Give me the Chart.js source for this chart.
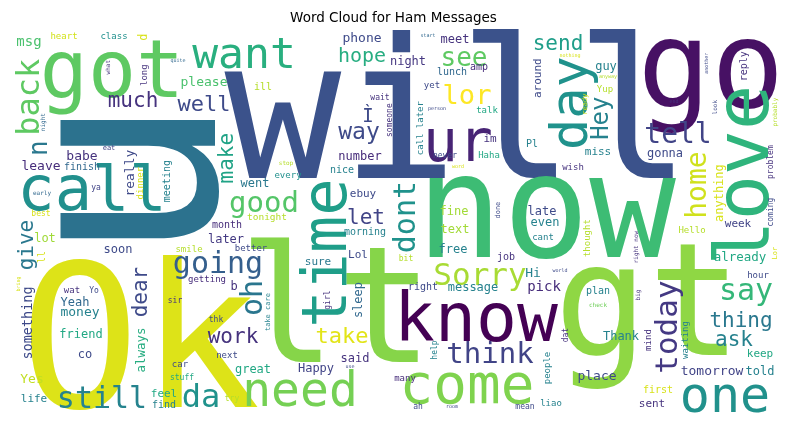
<!DOCTYPE html>
<html>
<head>
<meta charset="utf-8">
<title>Word Cloud for Ham Messages</title>
<script src="https://cdn.jsdelivr.net/npm/chart.js@4.4.1/dist/chart.umd.min.js"></script>
<style>
  html, body { margin: 0; padding: 0; background: #ffffff; }
  canvas { display: block; }
</style>
</head>
<body>
<canvas id="nube" width="790" height="425"></canvas>
<script>
// Palabras de la nube (mensajes "ham")
const words = [
  "will", "u", "Ok", "lt", "gt", "now", "go", "know", "come", "got",
  "call", "time", "love", "want", "need", "day", "ur", "one", "still", "da",
  "Sorry", "think", "going", "good", "oh", "lor", "see", "back", "dont", "home",
  "tell", "today", "say", "Hey", "Ì", "way", "make", "send", "much", "well",
  "hope", "give", "dear", "work", "take", "let", "thing", "ask", "n", "please",
  "msg", "heart", "class", "long", "babe", "leave", "finish", "really", "dinner", "meeting",
  "eat", "ya", "early", "best", "night", "quite", "what", "d", "every", "stop",
  "went", "tonight", "month", "later", "better", "soon", "smile", "lot", "ll", "getting",
  "b", "take care", "wat", "Yo", "Yeah", "money", "friend", "co", "something", "bring",
  "always", "Yes", "life", "feel", "find", "car", "stuff", "sir", "great", "next",
  "thk", "try", "Happy", "said", "use", "sleep", "girl", "sure", "Lol", "morning",
  "phone", "ill", "wait", "someone", "number", "nice", "ebuy", "start", "meet", "nothing",
  "night", "amp", "lunch", "yet", "around", "ready", "talk", "person", "Pl", "im",
  "call later", "never", "Haha", "wish", "word", "miss", "fine", "late", "done", "even",
  "cant", "text", "free", "job", "bit", "thought", "world", "Hi", "right", "message",
  "pick", "help", "many", "ah", "room", "mean", "liao", "people", "dat", "plan",
  "check", "big", "right now", "Hello", "anything", "gonna", "week", "coming", "problem", "probably",
  "already", "Lor", "hour", "Thank", "mind", "waiting", "keep", "tomorrow", "told", "place",
  "first", "sent", "guy", "anyway", "Yup", "end", "reply", "another", "look"
];

// Posición de cada palabra en la imagen (x, y de la línea base)
const posX = [
  458, 215, 140, 336, 648, 546, 711, 476, 467, 112,
  92, 346, 768, 244, 300, 587, 458, 725, 102, 201,
  480, 490, 218, 264, 262, 467, 464, 39, 415, 706,
  678, 677, 746, 608, 368, 359, 233, 558, 133, 204,
  362, 33, 147, 233, 342, 366, 741, 734, 47, 204,
  29, 64, 114, 147, 82, 41, 82, 134, 143, 170,
  109, 96, 42, 41, 45, 178, 110, 147, 288, 286,
  255, 267, 227, 226, 251, 118, 189, 45, 45, 207,
  234, 270, 72, 94, 75, 80, 81, 85, 32, 20,
  145, 32, 34, 164, 164, 180, 182, 175, 253, 227,
  216, 232, 316, 355, 350, 362, 330, 318, 358, 365,
  362, 263, 380, 392, 360, 342, 363, 428, 455, 570,
  408, 479, 452, 432, 541, 587, 487, 437, 532, 490,
  423, 445, 489, 573, 458, 598, 454, 542, 500, 545,
  543, 455, 453, 506, 406, 590, 560, 533, 423, 473,
  544, 437, 405, 418, 452, 525, 551, 550, 568, 598,
  598, 640, 638, 692, 723, 665, 738, 773, 773, 777,
  740, 777, 758, 621, 651, 688, 760, 712, 760, 597,
  658, 652, 606, 608, 605, 674, 747, 708, 717
];
const posY = [
  178, 180, 407, 362, 355, 257, 107, 341, 403, 97,
  210, 253, 175, 68, 406, 103, 161, 412, 408, 407,
  285, 363, 273, 212, 298, 104, 66, 97, 217, 185,
  143, 327, 300, 118, 122, 139, 158, 50, 107, 111,
  62, 245, 292, 343, 343, 224, 327, 346, 148, 86,
  46, 39, 39, 75, 160, 170, 170, 173, 183, 181,
  150, 190, 195, 216, 122, 62, 67, 37, 178, 165,
  187, 220, 228, 243, 251, 253, 252, 242, 257, 282,
  290, 312, 293, 293, 306, 316, 338, 358, 323, 284,
  350, 383, 402, 397, 408, 367, 380, 303, 373, 358,
  322, 401, 372, 362, 368, 300, 300, 265, 258, 235,
  42, 90, 100, 120, 160, 173, 197, 37, 43, 57,
  65, 70, 75, 88, 78, 104, 113, 110, 147, 142,
  128, 158, 158, 170, 168, 155, 215, 215, 210, 226,
  240, 233, 253, 260, 261, 238, 272, 277, 290, 291,
  291, 350, 381, 409, 408, 409, 406, 368, 335, 294,
  307, 295, 247, 233, 193, 157, 227, 212, 162, 112,
  261, 253, 278, 340, 340, 340, 357, 375, 375, 380,
  393, 407, 70, 78, 92, 103, 66, 63, 107
];

// Tamaño de letra (frecuencia relativa)
const sizes = [
  194, 283, 200, 162, 156, 144, 122, 68, 56, 80,
  62, 62, 75, 43, 48, 52, 58, 50, 30, 32,
  31, 29, 30, 29, 30, 27, 26, 32, 30, 28,
  28, 31, 30, 24, 19, 23, 21, 21, 21, 22,
  20, 21, 21, 21, 22, 21, 21, 21, 26, 13,
  14, 9, 9, 9, 13, 13, 10, 13, 9, 10,
  7, 8, 6, 8, 6, 5, 6, 12, 9, 6,
  12, 9.5, 10, 12, 9, 12, 9, 12, 10, 9,
  12, 7, 9, 8, 12, 13, 12, 12, 13.5, 5,
  12.5, 13, 11, 11, 10, 9, 8, 8, 12, 9,
  8, 8, 12, 12, 5, 12, 8, 11, 11, 10,
  13, 10, 8, 8, 12, 10, 11, 5, 12, 5,
  12, 10, 10, 9, 11, 7, 9, 5, 10, 11,
  9, 8, 9, 9, 5, 11, 12, 12, 7, 12,
  9, 12, 12, 10, 8, 9, 5, 13, 10, 12,
  14, 8, 9, 8, 5, 8, 9, 9, 8, 10,
  6, 6, 6, 9, 12, 12, 11, 8, 8, 6,
  12.5, 7, 9, 12, 9, 9, 11, 13, 12, 13,
  10, 11, 12, 5, 9, 5, 10, 5, 6
];

// 1 = palabra vertical (se lee de abajo hacia arriba)
const vertical = [
  0, 1, 0, 0, 0, 0, 0, 0, 0, 0,
  0, 1, 1, 0, 0, 1, 0, 0, 0, 0,
  0, 0, 0, 0, 1, 0, 0, 1, 1, 1,
  0, 1, 0, 1, 0, 0, 1, 0, 0, 0,
  0, 1, 1, 0, 0, 0, 0, 0, 1, 0,
  0, 0, 0, 1, 0, 0, 0, 1, 1, 1,
  0, 0, 0, 0, 1, 0, 1, 1, 0, 0,
  0, 0, 0, 0, 0, 0, 0, 0, 1, 0,
  0, 1, 0, 0, 0, 0, 0, 0, 1, 1,
  1, 0, 0, 0, 0, 0, 0, 0, 0, 0,
  0, 0, 0, 0, 0, 1, 1, 0, 0, 0,
  0, 0, 0, 1, 0, 0, 0, 0, 0, 0,
  0, 0, 0, 0, 1, 1, 0, 0, 0, 0,
  1, 0, 0, 0, 0, 0, 0, 0, 1, 0,
  0, 0, 0, 0, 0, 1, 0, 0, 0, 0,
  0, 1, 0, 0, 0, 0, 0, 1, 1, 0,
  0, 1, 1, 0, 1, 0, 0, 1, 1, 1,
  0, 1, 0, 0, 1, 1, 0, 0, 0, 0,
  0, 0, 0, 0, 0, 0, 1, 1, 1
];

// Colores (paleta viridis)
const colores = [
  "#3b528b", "#2c728e", "#dde318", "#86d549", "#8fd744", "#3dbc74", "#471164", "#440154", "#7fd34e", "#5ec962",
  "#21908d", "#1f9e89", "#2fb47c", "#29af7f", "#75d054", "#20928c", "#482475", "#21918c", "#25838e", "#20928c",
  "#a8db34", "#414487", "#355f8d", "#54c568", "#2a768e", "#fde725", "#5ec962", "#5ec962", "#20928c", "#d0e11c",
  "#414487", "#443983", "#35b779", "#26828e", "#3e4a89", "#3e4a89", "#20a386", "#1f9e89", "#46337e", "#3e4a89",
  "#27ad81", "#2a788e", "#3e4a89", "#46337e", "#e2e418", "#414487", "#2a788e", "#26828e", "#2a788e", "#4ac16d",
  "#4ac16d", "#d2e21b", "#21908d", "#46337e", "#46337e", "#472d7b", "#31688e", "#3e4989", "#d8e219", "#26828e",
  "#414487", "#414487", "#31688e", "#d8e219", "#31688e", "#31688e", "#46337e", "#d8e219", "#21908d", "#b5de2b",
  "#2a788e", "#b5de2b", "#472d7b", "#443a83", "#3e4a89", "#3e4a89", "#b5de2b", "#a0da39", "#d8e219", "#472d7b",
  "#46337e", "#26828e", "#46337e", "#3e4a89", "#31688e", "#26828e", "#22a884", "#3e4a89", "#3e4a89", "#d8e219",
  "#27ad81", "#c2df23", "#26828e", "#22a884", "#26828e", "#3e4a89", "#22a884", "#46337e", "#22a884", "#3e4a89",
  "#3e4a89", "#b5de2b", "#414487", "#46337e", "#3e4a89", "#31688e", "#46337e", "#2a788e", "#3e4a89", "#26828e",
  "#3e4a89", "#b5de2b", "#46337e", "#46337e", "#472c7a", "#26828e", "#3e4a89", "#31688e", "#46337e", "#d8e219",
  "#453781", "#472d7b", "#31688e", "#3e4a89", "#3e4a89", "#d8e219", "#22a884", "#3e4a89", "#26828e", "#46337e",
  "#26828e", "#3e4a89", "#22a884", "#46337e", "#d8e219", "#26828e", "#a2da37", "#3e4a89", "#3e4a89", "#26828e",
  "#26828e", "#a2da37", "#26828e", "#46337e", "#b5de2b", "#b5de2b", "#3e4a89", "#26828e", "#3e4a89", "#26828e",
  "#472d7b", "#26828e", "#472d7b", "#3e4a89", "#3e4a89", "#3e4a89", "#26828e", "#26828e", "#46337e", "#26828e",
  "#6ece58", "#46337e", "#46337e", "#b5de2b", "#d8e219", "#3e4a89", "#414487", "#3e4a89", "#46337e", "#b5de2b",
  "#22a884", "#d8e219", "#3e4a89", "#26828e", "#46337e", "#26828e", "#22a884", "#414487", "#26828e", "#3e4a89",
  "#d8e219", "#46337e", "#26828e", "#b5de2b", "#b5de2b", "#46337e", "#46337e", "#3e4a89", "#3e4a89"
];

// Marco de la imagen de la nube (en pixeles de la imagen original)
const X_MIN = 12, X_MAX = 775;
const Y_MIN = 33, Y_MAX = 414;

// Plugin que dibuja cada palabra sobre su punto
const pluginPalabras = {
  id: 'palabras',
  afterDatasetsDraw(chart) {
    const ctx = chart.ctx;
    const meta = chart.getDatasetMeta(0);
    const escala = chart.chartArea.width / (X_MAX - X_MIN);
    ctx.save();
    ctx.textAlign = 'center';
    ctx.textBaseline = 'alphabetic';
    meta.data.forEach((punto, i) => {
      ctx.save();
      ctx.translate(punto.x, punto.y);
      if (vertical[i]) ctx.rotate(-Math.PI / 2);
      ctx.font = (sizes[i] * escala) + 'px "DejaVu Sans Mono"';
      ctx.fillStyle = colores[i];
      ctx.fillText(words[i], 0, 0);
      ctx.restore();
    });
    ctx.restore();
  }
};

const puntos = words.map((w, i) => ({ x: posX[i], y: posY[i] }));

new Chart(document.getElementById('nube'), {
  type: 'scatter',
  data: {
    datasets: [{
      label: 'palabras',
      data: puntos,
      pointRadius: 0,
      pointHoverRadius: 0
    }]
  },
  options: {
    responsive: false,
    animation: false,
    layout: { padding: { left: 12, right: 15, top: 0, bottom: 11 } },
    scales: {
      x: { type: 'linear', min: X_MIN, max: X_MAX, display: false },
      y: { type: 'linear', min: Y_MIN, max: Y_MAX, reverse: true, display: false }
    },
    plugins: {
      legend: { display: false },
      tooltip: { enabled: false },
      title: {
        display: true,
        text: 'Word Cloud for Ham Messages',
        color: '#000000',
        font: { family: 'DejaVu Sans', size: 13.5, weight: 'normal' },
        padding: { top: 10, bottom: 7 }
      }
    }
  },
  plugins: [pluginPalabras]
});
</script>
</body>
</html>
